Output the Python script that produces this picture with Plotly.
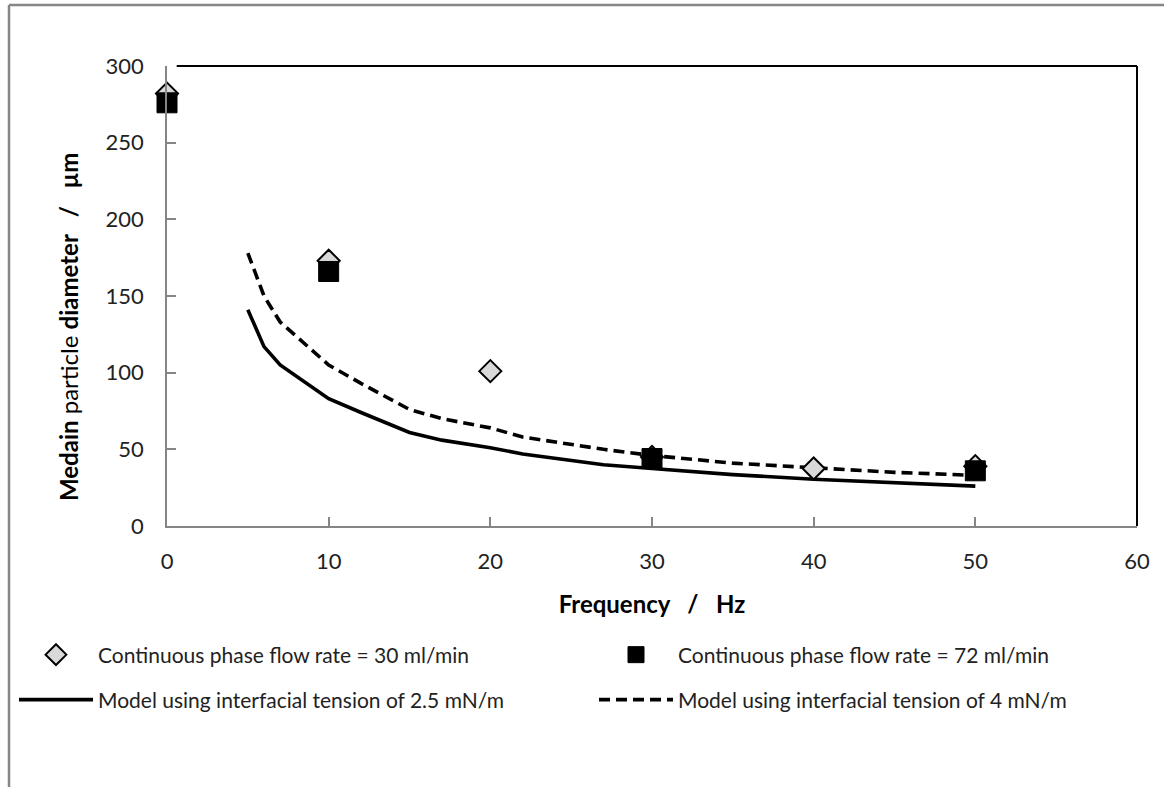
import plotly.graph_objects as go

# ---- data ----
freq_30 = [0, 10, 20, 30, 40, 50]
diam_30 = [282, 173, 101, 45, 37.5, 39]

freq_72 = [0, 10, 30, 50]
diam_72 = [276, 166, 44, 36]

model_freq = [5, 6, 7, 10, 12, 15, 17, 20, 22, 25, 27, 30, 35, 40, 45, 50]
model_25 = [141, 117, 105, 83, 74, 61, 56, 51, 47, 43, 40, 37.5, 33.5, 30.5, 28, 26]
model_4 = [178, 150, 133, 105, 93, 76, 70, 64, 58, 53, 50, 46, 41, 38, 35, 33]

x_ticks = [0, 10, 20, 30, 40, 50, 60]
y_ticks = [0, 50, 100, 150, 200, 250, 300]

names = [
    "Continuous phase flow rate = 30 ml/min",
    "Continuous phase flow rate = 72 ml/min",
    "Model using interfacial tension of 2.5 mN/m",
    "Model using interfacial tension of 4 mN/m",
]

FONT = "Lato, Carlito, Calibri, sans-serif"
TXT = "#222222"

fig = go.Figure()

fig.add_trace(go.Scatter(
    x=model_freq, y=model_25, mode="lines", name=names[2], legend="legend3",
    line=dict(color="black", width=3.6), cliponaxis=False))
fig.add_trace(go.Scatter(
    x=model_freq, y=model_4, mode="lines", name=names[3], legend="legend4",
    line=dict(color="black", width=3.6, dash="11px,6px"), cliponaxis=False))
fig.add_trace(go.Scatter(
    x=freq_30, y=diam_30, mode="markers", name=names[0], legend="legend",
    marker=dict(symbol="diamond", size=17, color="#d9d9d9",
                line=dict(color="black", width=2)), cliponaxis=False))
fig.add_trace(go.Scatter(
    x=freq_72, y=diam_72, mode="markers", name=names[1], legend="legend2",
    marker=dict(symbol="square", size=20, color="black",
                line=dict(color="black", width=1)), cliponaxis=False))

axis_common = dict(
    showgrid=False, zeroline=False, showline=True, linecolor="#868686",
    linewidth=1.5, ticks="inside", ticklen=9, tickcolor="#868686",
    tickwidth=1.5, tickfont=dict(family=FONT, size=22, color=TXT),
)

fig.update_xaxes(
    range=[0, 60], tickvals=x_ticks, ticktext=[str(v) for v in x_ticks],
    title=dict(text="<b>Frequency&nbsp;&nbsp; /&nbsp;&nbsp; Hz</b>",
               font=dict(family=FONT, size=24, color="black"), standoff=23),
    ticklabelstandoff=15,
    **axis_common)
fig.update_yaxes(
    range=[0, 300], tickvals=y_ticks, ticktext=[str(v) for v in y_ticks],
    ticklabelstandoff=17,
    **axis_common)

# y-axis title placed like the original (slightly below plot centre)
fig.add_annotation(
    xref="paper", yref="paper", x=(68 - 167) / 970, y=(526 - 327) / 460,
    text="<b>Medain</b> particle <b>diameter&nbsp;&nbsp; /&nbsp;&nbsp; µm</b>",
    textangle=-90, showarrow=False, xanchor="center", yanchor="middle",
    font=dict(family=FONT, size=24, color="black"))

# plot frame (top / right in black) and outer chart border
fig.add_shape(type="line", xref="paper", yref="paper", x0=0.01, x1=1, y0=1, y1=1,
              line=dict(color="black", width=2))
fig.add_shape(type="line", xref="paper", yref="paper", x0=1, x1=1, y0=0, y1=1,
              line=dict(color="black", width=2))
fig.add_shape(type="line", xref="paper", yref="paper",
              x0=(9 - 167) / 970, x1=(9 - 167) / 970,
              y0=-0.7, y1=(526 - 5) / 460, line=dict(color="#868686", width=2.5))
fig.add_shape(type="line", xref="paper", yref="paper",
              x0=(9 - 167) / 970, x1=1.1,
              y0=(526 - 5) / 460, y1=(526 - 5) / 460,
              line=dict(color="#868686", width=2.5))

legend_common = dict(
    orientation="h", xref="container", yref="container",
    xanchor="left", yanchor="middle", itemwidth=74,
    font=dict(family=FONT, size=21, color=TXT), bgcolor="rgba(0,0,0,0)",
)
W, H = 1164, 787
fig.update_layout(
    width=W, height=H,
    margin=dict(l=167, r=27, t=66, b=261),
    paper_bgcolor="white", plot_bgcolor="white",
    font=dict(family=FONT, size=21, color=TXT),
    showlegend=True,
    legend=dict(x=14 / W, y=1 - 655 / H, **legend_common),
    legend2=dict(x=594 / W, y=1 - 655 / H, **legend_common),
    legend3=dict(x=14 / W, y=1 - 700 / H, **legend_common),
    legend4=dict(x=594 / W, y=1 - 700 / H, **legend_common),
)

fig.write_html("out.html", config={"displayModeBar": False},
               post_script="document.body.style.margin='0px';")
